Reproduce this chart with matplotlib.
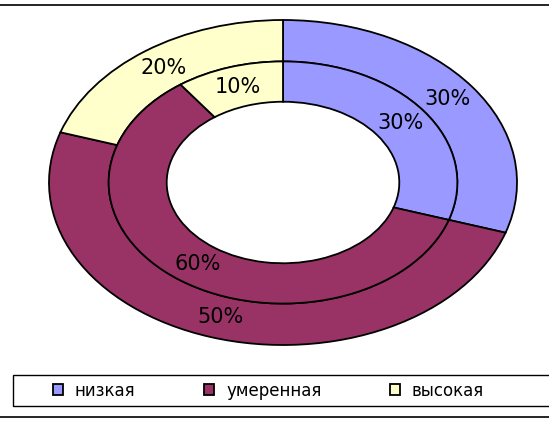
import matplotlib
matplotlib.use('Agg')
import matplotlib.pyplot as plt
from matplotlib.patches import Rectangle
from matplotlib.lines import Line2D

plt.rcParams['font.family'] = ['DejaVu Sans']

categories = ['низкая', 'умеренная', 'высокая']
outer_vals = [30, 50, 20]
inner_vals = [30, 60, 10]
colors = ['#9999FF', '#993366', '#FFFFCC']

W, H = 549, 423
fig = plt.figure(figsize=(W / 100, H / 100), dpi=100)

# axes stretched horizontally so the rings come out as ellipses
ax = fig.add_axes([49 / W, (H - 345) / H, 468 / W, 325 / H])

wedge_kw = dict(edgecolor='black', linewidth=1.3)
text_kw = dict(fontsize=15, color='black')

outer, _, _ = ax.pie(outer_vals, colors=colors, radius=1.0, startangle=90,
                     counterclock=False, autopct='%d%%', pctdistance=0.87,
                     wedgeprops=dict(width=0.255, **wedge_kw), textprops=text_kw)
ax.pie(inner_vals, colors=colors, radius=0.745, startangle=90,
       counterclock=False, autopct='%d%%', pctdistance=0.83,
       wedgeprops=dict(width=0.248, **wedge_kw), textprops=text_kw)

ax.set_aspect('auto')
ax.set_xlim(-1, 1)
ax.set_ylim(-1, 1)
ax.axis('off')

# horizontal frame lines at top and bottom
for y in (5, 417):
    fig.add_artist(Line2D([0, 1], [1 - y / H, 1 - y / H], transform=fig.transFigure,
                          color='black', linewidth=1.2))

# legend box running off the right edge
fig.add_artist(Rectangle((13 / W, 1 - 406 / H), 1.0, 31 / H, transform=fig.transFigure,
                         facecolor='white', edgecolor='black', linewidth=1.0))

leg = fig.legend(outer, categories, loc='center left',
                 bbox_to_anchor=(53 / W, 1 - 390.5 / H), ncol=3, frameon=False,
                 fontsize=12, handlelength=0.62, handleheight=0.62,
                 handletextpad=0.7, columnspacing=4.1, borderpad=0, borderaxespad=0)

fig.savefig('out.png', dpi=100)
